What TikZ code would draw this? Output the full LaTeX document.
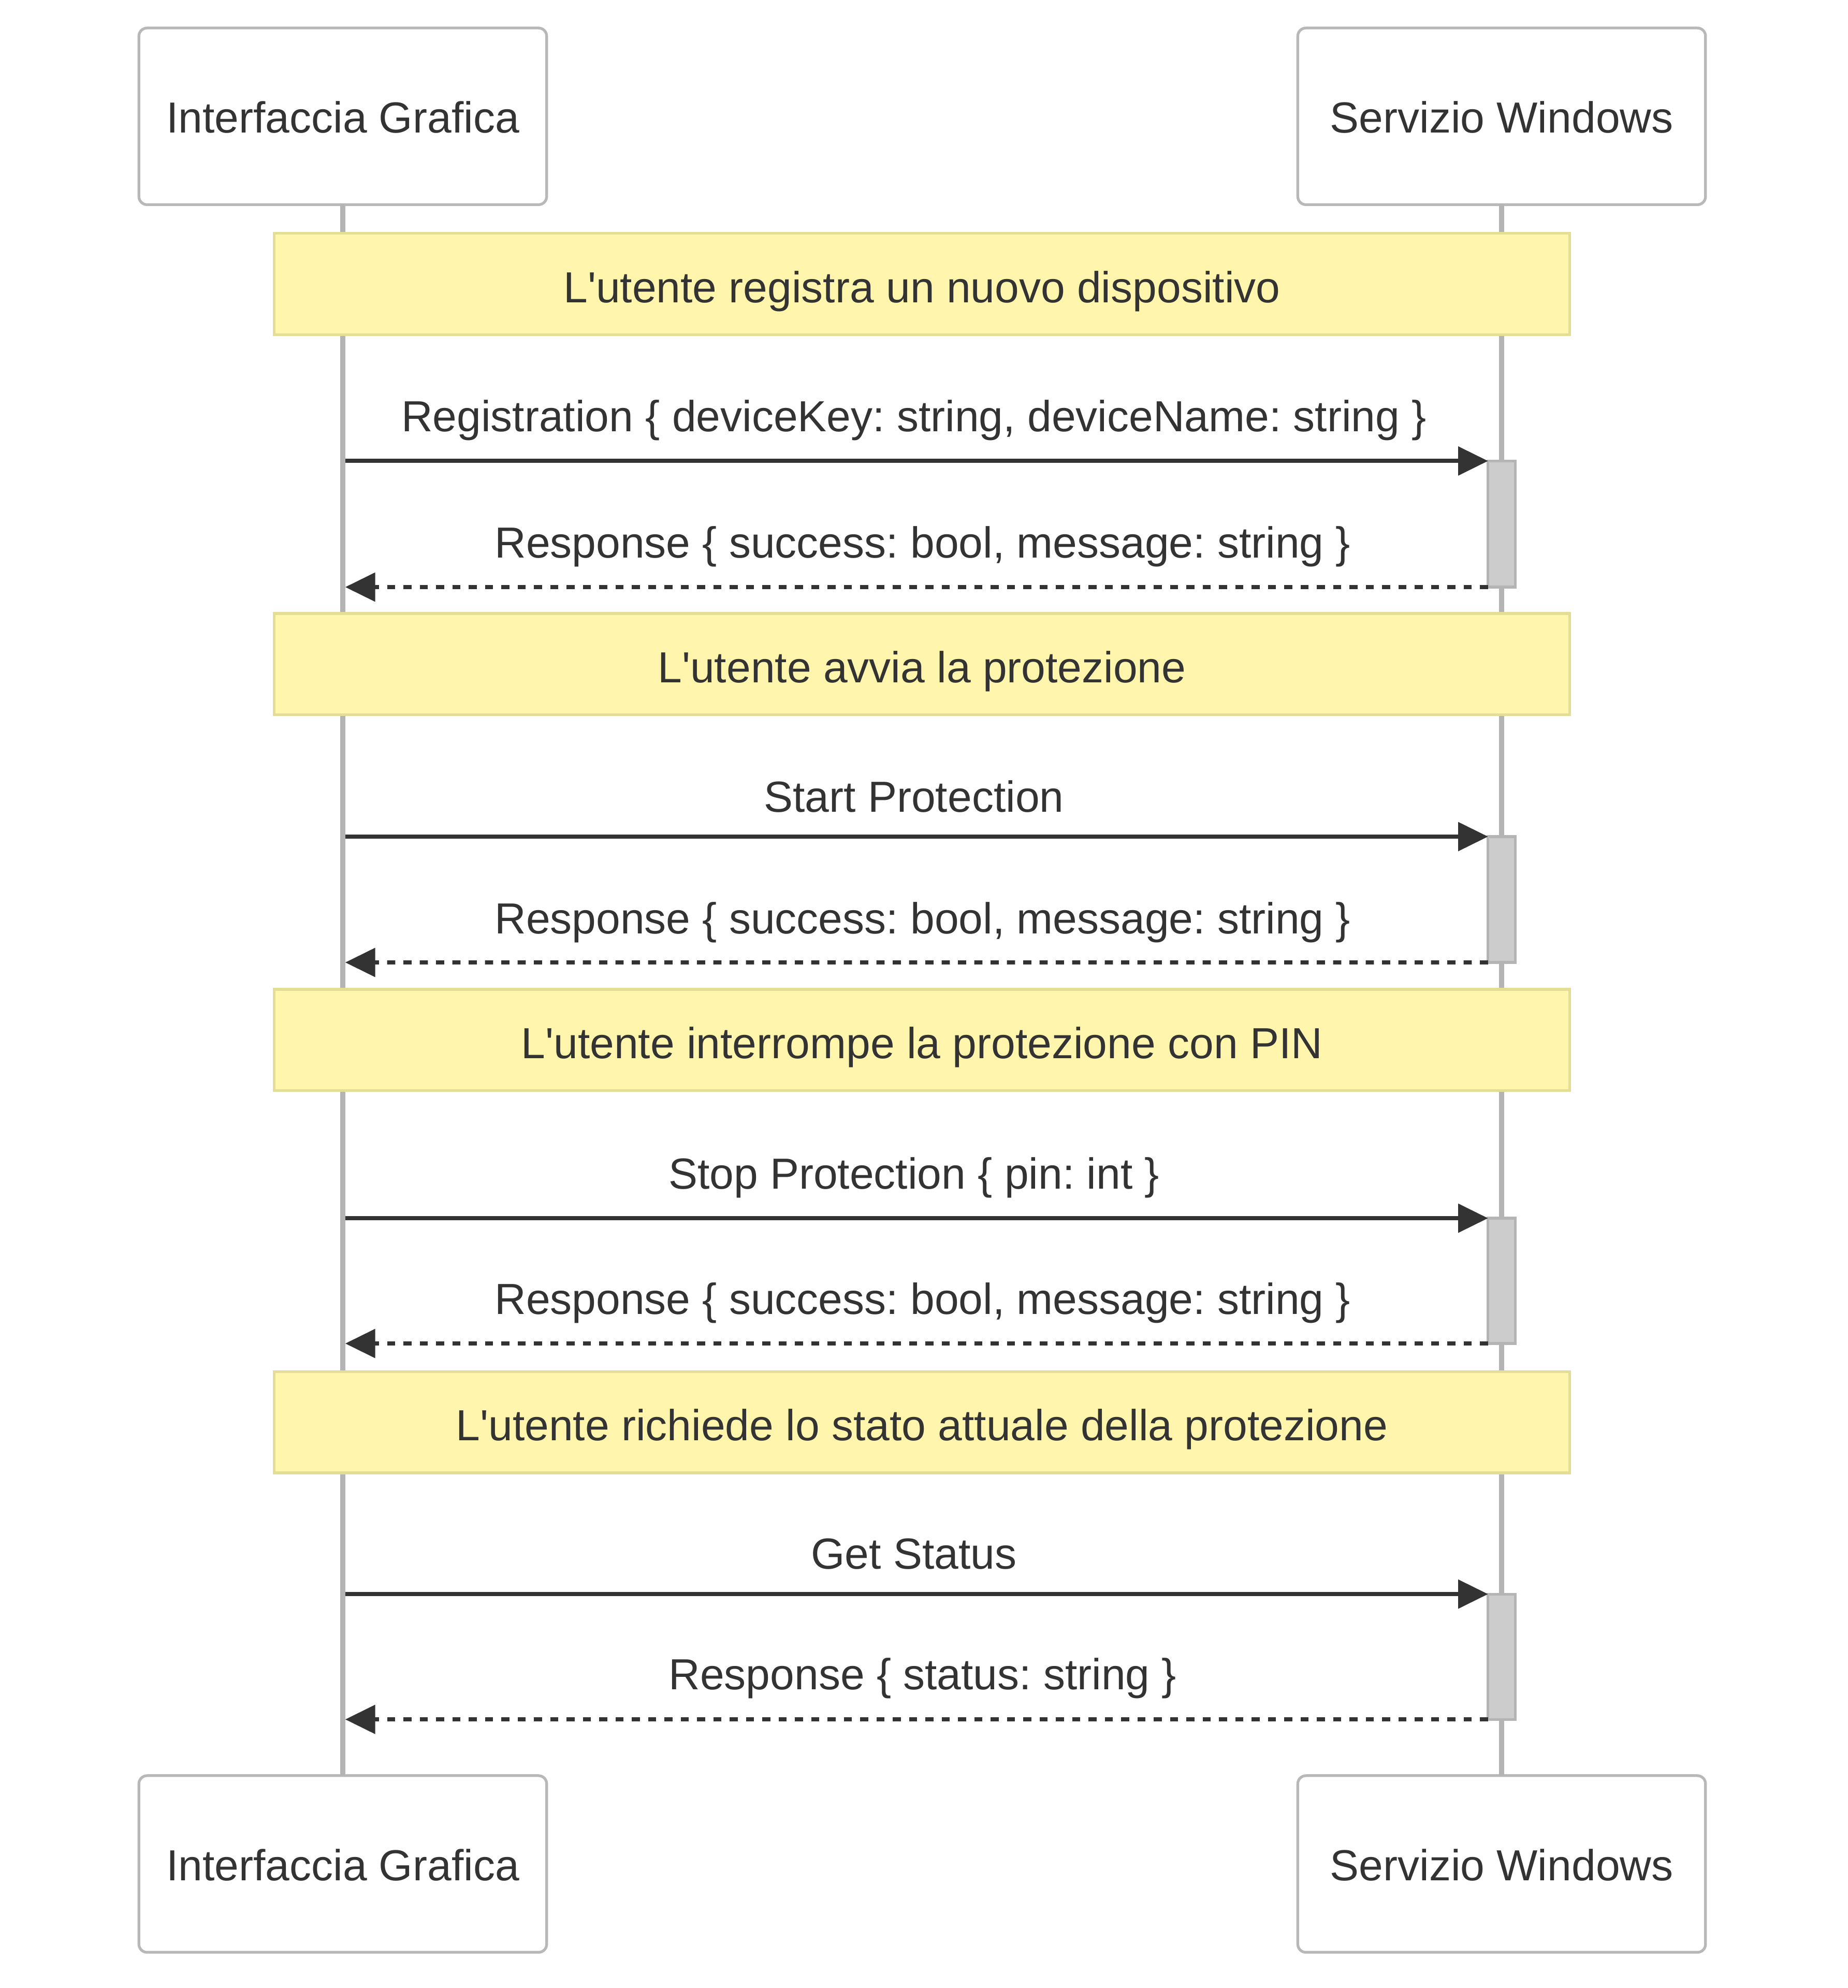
\documentclass[tikz,border=0pt]{standalone}
\usepackage{fontspec}
\setmainfont{Liberation Sans}[Ligatures=TeXOff]
\usetikzlibrary{arrows.meta}
\frenchspacing
\definecolor{txt}{HTML}{333333}
\definecolor{lifegray}{RGB}{180,180,180}
\definecolor{actborder}{RGB}{184,184,184}
\definecolor{notefill}{HTML}{FFF5AD}
\definecolor{noteborder}{RGB}{228,221,150}
\definecolor{actfill}{HTML}{CCCCCC}
\definecolor{actvborder}{RGB}{180,180,180}
\begin{document}
\begin{tikzpicture}[x=1pt,y=-1pt,
  font=\fontsize{16pt}{19pt}\selectfont\frenchspacing, text=txt,
  actor/.style={draw=actborder, line width=1pt, rounded corners=3pt, fill=white,
    minimum width=150pt, minimum height=65pt, inner sep=0pt, outer sep=0pt,
    anchor=north west, text height=12.2pt, text depth=0pt},
  notebox/.style={draw=noteborder, line width=1pt, fill=notefill,
    minimum width=476.5pt, minimum height=37.3pt, inner sep=0pt, outer sep=0pt,
    anchor=north west, text height=13.6pt, text depth=0pt},
  activ/.style={draw=actvborder, line width=1pt, fill=actfill,
    minimum width=10pt, inner sep=0pt, outer sep=0pt, anchor=north west},
  lifeline/.style={draw=lifegray, line width=2pt},
  msg/.style={draw=txt, line width=1.5pt, -{Triangle[length=11pt,width=10.4pt]}},
  reply/.style={msg, dash pattern=on 3pt off 3pt},
  msglabel/.style={anchor=base, inner sep=0pt, text=txt, xshift=-1pt},
  replylabel/.style={anchor=base, inner sep=0pt, text=txt, xshift=2.2pt}
]
\fill[white] (0,0) rectangle (679.81,731.43);
\useasboundingbox (0,0) rectangle (679.81,731.43);

% actors
\node[actor] (ta1) at (51.1,10.3) {Interfaccia Grafica};
\node[actor] (ta2) at (477.4,10.3) {Servizio Windows};
\node[actor] (ba1) at (51.1,653.3) {Interfaccia Grafica};
\node[actor] (ba2) at (477.4,653.3) {Servizio Windows};

% lifelines
\draw[lifeline] (ta1.south) -- (ba1.north);
\draw[lifeline] (ta2.south) -- (ba2.north);

% notes
\node[notebox] (n1) at (100.9,85.8) {L'utente registra un nuovo dispositivo};
\node[notebox] (n2) at (100.9,225.7) {L'utente avvia la protezione};
\node[notebox] (n3) at (100.9,364.0) {L'utente interrompe la protezione con PIN};
\node[notebox] (n4) at (100.9,504.6) {L'utente richiede lo stato attuale della protezione};

% activation boxes
\node[activ, minimum height=46.4pt] (a1) at (547.4,169.6) {};
\node[activ, minimum height=46.3pt] (a2) at (547.4,307.8) {};
\node[activ, minimum height=46.1pt] (a3) at (547.4,448.2) {};
\node[activ, minimum height=46.1pt] (a4) at (547.4,586.5) {};

% lifeline points on the left
\coordinate (s1) at (127,169.6);
\coordinate (r1) at (127,216.0);
\coordinate (s2) at (127,307.8);
\coordinate (r2) at (127,354.1);
\coordinate (s3) at (127,448.2);
\coordinate (r3) at (127,494.3);
\coordinate (s4) at (127,586.5);
\coordinate (r4) at (127,632.6);

% messages
\draw[msg] (s1) -- (a1.north west) node[msglabel, midway, yshift=10.8pt] {Registration \{ deviceKey: string, deviceName: string \}};
\draw[reply] (a1.south west) -- (r1) node[replylabel, midway, yshift=10.7pt] {Response \{ success: bool, message: string \}};
\draw[msg] (s2) -- (a2.north west) node[msglabel, midway, yshift=9.0pt] {Start Protection};
\draw[reply] (a2.south west) -- (r2) node[replylabel, midway, yshift=10.6pt] {Response \{ success: bool, message: string \}};
\draw[msg] (s3) -- (a3.north west) node[msglabel, midway, yshift=10.8pt] {Stop Protection \{ pin: int \}};
\draw[reply] (a3.south west) -- (r3) node[replylabel, midway, yshift=10.8pt] {Response \{ success: bool, message: string \}};
\draw[msg] (s4) -- (a4.north west) node[msglabel, midway, yshift=9.2pt] {Get Status};
\draw[reply] (a4.south west) -- (r4) node[replylabel, midway, yshift=10.9pt] {Response \{ status: string \}};
\end{tikzpicture}
\end{document}
